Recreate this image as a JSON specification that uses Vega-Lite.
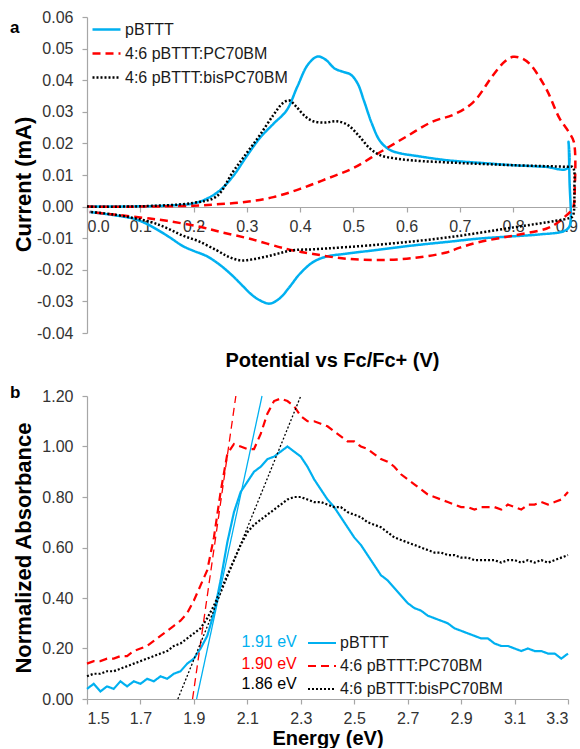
{
  "$schema": "https://vega.github.io/schema/vega-lite/v6.json",
  "padding": {"left": 10, "top": 9, "right": 0, "bottom": 0},
  "spacing": 14,
  "config": {
    "font": "Liberation Sans",
    "view": {"stroke": null},
    "axis": {"grid": false, "domainColor": "#a6a6a6", "tickColor": "#a6a6a6", "domainWidth": 1.2, "tickWidth": 1.2, "tickSize": 5, "labelColor": "#333333", "labelFontSize": 16, "labelFont": "Liberation Sans", "titleFont": "Liberation Sans", "titleFontSize": 20, "titleFontWeight": "bold", "titleColor": "#000000"},
    "legend": {"labelFontSize": 16, "labelColor": "#1a1a1a", "labelFont": "Liberation Sans", "symbolType": "stroke", "symbolSize": 784, "symbolStrokeWidth": 2.5, "padding": 0, "labelOffset": 3, "labelLimit": 300},
    "title": {"font": "Liberation Sans", "fontSize": 17, "fontWeight": "bold", "color": "#000000"}
  },
  "datasets": {
    "cv": [
      {"s":"pBTTT","i":0,"V":0.000,"I":0.0000},{"s":"pBTTT","i":1,"V":0.050,"I":0.0000},{"s":"pBTTT","i":2,"V":0.100,"I":0.0001},{"s":"pBTTT","i":3,"V":0.150,"I":0.0003},{"s":"pBTTT","i":4,"V":0.200,"I":0.0010},{"s":"pBTTT","i":5,"V":0.225,"I":0.0025},{"s":"pBTTT","i":6,"V":0.250,"I":0.0052},{"s":"pBTTT","i":7,"V":0.275,"I":0.0098},{"s":"pBTTT","i":8,"V":0.300,"I":0.0160},{"s":"pBTTT","i":9,"V":0.325,"I":0.0218},{"s":"pBTTT","i":10,"V":0.350,"I":0.0262},{"s":"pBTTT","i":11,"V":0.375,"I":0.0305},{"s":"pBTTT","i":12,"V":0.395,"I":0.0380},{"s":"pBTTT","i":13,"V":0.415,"I":0.0450},{"s":"pBTTT","i":14,"V":0.433,"I":0.0475},{"s":"pBTTT","i":15,"V":0.448,"I":0.0465},{"s":"pBTTT","i":16,"V":0.465,"I":0.0437},{"s":"pBTTT","i":17,"V":0.480,"I":0.0427},{"s":"pBTTT","i":18,"V":0.495,"I":0.0418},{"s":"pBTTT","i":19,"V":0.508,"I":0.0390},{"s":"pBTTT","i":20,"V":0.520,"I":0.0335},{"s":"pBTTT","i":21,"V":0.535,"I":0.0262},{"s":"pBTTT","i":22,"V":0.550,"I":0.0208},{"s":"pBTTT","i":23,"V":0.568,"I":0.0180},{"s":"pBTTT","i":24,"V":0.590,"I":0.0168},{"s":"pBTTT","i":25,"V":0.612,"I":0.0162},{"s":"pBTTT","i":26,"V":0.675,"I":0.0147},{"s":"pBTTT","i":27,"V":0.750,"I":0.0137},{"s":"pBTTT","i":28,"V":0.800,"I":0.0131},{"s":"pBTTT","i":29,"V":0.860,"I":0.0126},{"s":"pBTTT","i":30,"V":0.902,"I":0.0121},{"s":"pBTTT","i":31,"V":0.904,"I":0.0205},{"s":"pBTTT","i":32,"V":0.906,"I":0.0080},{"s":"pBTTT","i":33,"V":0.908,"I":-0.0045},{"s":"pBTTT","i":34,"V":0.905,"I":-0.0065},{"s":"pBTTT","i":35,"V":0.895,"I":-0.0078},{"s":"pBTTT","i":36,"V":0.850,"I":-0.0088},{"s":"pBTTT","i":37,"V":0.800,"I":-0.0094},{"s":"pBTTT","i":38,"V":0.737,"I":-0.0101},{"s":"pBTTT","i":39,"V":0.675,"I":-0.0112},{"s":"pBTTT","i":40,"V":0.612,"I":-0.0123},{"s":"pBTTT","i":41,"V":0.550,"I":-0.0136},{"s":"pBTTT","i":42,"V":0.487,"I":-0.0149},{"s":"pBTTT","i":43,"V":0.450,"I":-0.0158},{"s":"pBTTT","i":44,"V":0.425,"I":-0.0175},{"s":"pBTTT","i":45,"V":0.400,"I":-0.0212},{"s":"pBTTT","i":46,"V":0.380,"I":-0.0255},{"s":"pBTTT","i":47,"V":0.362,"I":-0.0290},{"s":"pBTTT","i":48,"V":0.343,"I":-0.0307},{"s":"pBTTT","i":49,"V":0.325,"I":-0.0297},{"s":"pBTTT","i":50,"V":0.310,"I":-0.0280},{"s":"pBTTT","i":51,"V":0.290,"I":-0.0247},{"s":"pBTTT","i":52,"V":0.274,"I":-0.0220},{"s":"pBTTT","i":53,"V":0.250,"I":-0.0185},{"s":"pBTTT","i":54,"V":0.225,"I":-0.0157},{"s":"pBTTT","i":55,"V":0.200,"I":-0.0140},{"s":"pBTTT","i":56,"V":0.180,"I":-0.0125},{"s":"pBTTT","i":57,"V":0.155,"I":-0.0097},{"s":"pBTTT","i":58,"V":0.131,"I":-0.0072},{"s":"pBTTT","i":59,"V":0.110,"I":-0.0053},{"s":"pBTTT","i":60,"V":0.087,"I":-0.0038},{"s":"pBTTT","i":61,"V":0.050,"I":-0.0027},{"s":"pBTTT","i":62,"V":0.005,"I":-0.0017},
      {"s":"4:6 pBTTT:PC70BM","i":0,"V":0.000,"I":0.0000},{"s":"4:6 pBTTT:PC70BM","i":1,"V":0.100,"I":0.0000},{"s":"4:6 pBTTT:PC70BM","i":2,"V":0.200,"I":0.0003},{"s":"4:6 pBTTT:PC70BM","i":3,"V":0.250,"I":0.0008},{"s":"4:6 pBTTT:PC70BM","i":4,"V":0.300,"I":0.0015},{"s":"4:6 pBTTT:PC70BM","i":5,"V":0.350,"I":0.0030},{"s":"4:6 pBTTT:PC70BM","i":6,"V":0.400,"I":0.0056},{"s":"4:6 pBTTT:PC70BM","i":7,"V":0.450,"I":0.0088},{"s":"4:6 pBTTT:PC70BM","i":8,"V":0.500,"I":0.0122},{"s":"4:6 pBTTT:PC70BM","i":9,"V":0.550,"I":0.0172},{"s":"4:6 pBTTT:PC70BM","i":10,"V":0.600,"I":0.0222},{"s":"4:6 pBTTT:PC70BM","i":11,"V":0.650,"I":0.0270},{"s":"4:6 pBTTT:PC70BM","i":12,"V":0.687,"I":0.0290},{"s":"4:6 pBTTT:PC70BM","i":13,"V":0.725,"I":0.0330},{"s":"4:6 pBTTT:PC70BM","i":14,"V":0.762,"I":0.0415},{"s":"4:6 pBTTT:PC70BM","i":15,"V":0.785,"I":0.0460},{"s":"4:6 pBTTT:PC70BM","i":16,"V":0.800,"I":0.0474},{"s":"4:6 pBTTT:PC70BM","i":17,"V":0.815,"I":0.0470},{"s":"4:6 pBTTT:PC70BM","i":18,"V":0.831,"I":0.0452},{"s":"4:6 pBTTT:PC70BM","i":19,"V":0.862,"I":0.0373},{"s":"4:6 pBTTT:PC70BM","i":20,"V":0.887,"I":0.0280},{"s":"4:6 pBTTT:PC70BM","i":21,"V":0.905,"I":0.0235},{"s":"4:6 pBTTT:PC70BM","i":22,"V":0.914,"I":0.0205},{"s":"4:6 pBTTT:PC70BM","i":23,"V":0.916,"I":0.0066},{"s":"4:6 pBTTT:PC70BM","i":24,"V":0.912,"I":-0.0006},{"s":"4:6 pBTTT:PC70BM","i":25,"V":0.900,"I":-0.0028},{"s":"4:6 pBTTT:PC70BM","i":26,"V":0.880,"I":-0.0055},{"s":"4:6 pBTTT:PC70BM","i":27,"V":0.862,"I":-0.0070},{"s":"4:6 pBTTT:PC70BM","i":28,"V":0.800,"I":-0.0092},{"s":"4:6 pBTTT:PC70BM","i":29,"V":0.737,"I":-0.0112},{"s":"4:6 pBTTT:PC70BM","i":30,"V":0.700,"I":-0.0130},{"s":"4:6 pBTTT:PC70BM","i":31,"V":0.675,"I":-0.0145},{"s":"4:6 pBTTT:PC70BM","i":32,"V":0.612,"I":-0.0163},{"s":"4:6 pBTTT:PC70BM","i":33,"V":0.550,"I":-0.0169},{"s":"4:6 pBTTT:PC70BM","i":34,"V":0.487,"I":-0.0165},{"s":"4:6 pBTTT:PC70BM","i":35,"V":0.425,"I":-0.0150},{"s":"4:6 pBTTT:PC70BM","i":36,"V":0.375,"I":-0.0134},{"s":"4:6 pBTTT:PC70BM","i":37,"V":0.306,"I":-0.0102},{"s":"4:6 pBTTT:PC70BM","i":38,"V":0.250,"I":-0.0080},{"s":"4:6 pBTTT:PC70BM","i":39,"V":0.212,"I":-0.0064},{"s":"4:6 pBTTT:PC70BM","i":40,"V":0.150,"I":-0.0045},{"s":"4:6 pBTTT:PC70BM","i":41,"V":0.118,"I":-0.0038},{"s":"4:6 pBTTT:PC70BM","i":42,"V":0.050,"I":-0.0025},{"s":"4:6 pBTTT:PC70BM","i":43,"V":0.005,"I":-0.0017},
      {"s":"4:6 pBTTT:bisPC70BM","i":0,"V":0.000,"I":0.0000},{"s":"4:6 pBTTT:bisPC70BM","i":1,"V":0.100,"I":0.0001},{"s":"4:6 pBTTT:bisPC70BM","i":2,"V":0.200,"I":0.0012},{"s":"4:6 pBTTT:bisPC70BM","i":3,"V":0.243,"I":0.0032},{"s":"4:6 pBTTT:bisPC70BM","i":4,"V":0.274,"I":0.0110},{"s":"4:6 pBTTT:bisPC70BM","i":5,"V":0.300,"I":0.0170},{"s":"4:6 pBTTT:bisPC70BM","i":6,"V":0.324,"I":0.0225},{"s":"4:6 pBTTT:bisPC70BM","i":7,"V":0.350,"I":0.0290},{"s":"4:6 pBTTT:bisPC70BM","i":8,"V":0.368,"I":0.0328},{"s":"4:6 pBTTT:bisPC70BM","i":9,"V":0.380,"I":0.0336},{"s":"4:6 pBTTT:bisPC70BM","i":10,"V":0.392,"I":0.0318},{"s":"4:6 pBTTT:bisPC70BM","i":11,"V":0.410,"I":0.0285},{"s":"4:6 pBTTT:bisPC70BM","i":12,"V":0.425,"I":0.0270},{"s":"4:6 pBTTT:bisPC70BM","i":13,"V":0.447,"I":0.0266},{"s":"4:6 pBTTT:bisPC70BM","i":14,"V":0.469,"I":0.0270},{"s":"4:6 pBTTT:bisPC70BM","i":15,"V":0.490,"I":0.0258},{"s":"4:6 pBTTT:bisPC70BM","i":16,"V":0.510,"I":0.0225},{"s":"4:6 pBTTT:bisPC70BM","i":17,"V":0.530,"I":0.0186},{"s":"4:6 pBTTT:bisPC70BM","i":18,"V":0.550,"I":0.0163},{"s":"4:6 pBTTT:bisPC70BM","i":19,"V":0.580,"I":0.0152},{"s":"4:6 pBTTT:bisPC70BM","i":20,"V":0.612,"I":0.0146},{"s":"4:6 pBTTT:bisPC70BM","i":21,"V":0.700,"I":0.0138},{"s":"4:6 pBTTT:bisPC70BM","i":22,"V":0.800,"I":0.0131},{"s":"4:6 pBTTT:bisPC70BM","i":23,"V":0.900,"I":0.0126},{"s":"4:6 pBTTT:bisPC70BM","i":24,"V":0.912,"I":0.0125},{"s":"4:6 pBTTT:bisPC70BM","i":25,"V":0.915,"I":0.0050},{"s":"4:6 pBTTT:bisPC70BM","i":26,"V":0.912,"I":-0.0030},{"s":"4:6 pBTTT:bisPC70BM","i":27,"V":0.906,"I":-0.0036},{"s":"4:6 pBTTT:bisPC70BM","i":28,"V":0.880,"I":-0.0045},{"s":"4:6 pBTTT:bisPC70BM","i":29,"V":0.800,"I":-0.0066},{"s":"4:6 pBTTT:bisPC70BM","i":30,"V":0.675,"I":-0.0098},{"s":"4:6 pBTTT:bisPC70BM","i":31,"V":0.550,"I":-0.0120},{"s":"4:6 pBTTT:bisPC70BM","i":32,"V":0.425,"I":-0.0135},{"s":"4:6 pBTTT:bisPC70BM","i":33,"V":0.387,"I":-0.0138},{"s":"4:6 pBTTT:bisPC70BM","i":34,"V":0.360,"I":-0.0148},{"s":"4:6 pBTTT:bisPC70BM","i":35,"V":0.337,"I":-0.0158},{"s":"4:6 pBTTT:bisPC70BM","i":36,"V":0.310,"I":-0.0167},{"s":"4:6 pBTTT:bisPC70BM","i":37,"V":0.287,"I":-0.0170},{"s":"4:6 pBTTT:bisPC70BM","i":38,"V":0.265,"I":-0.0158},{"s":"4:6 pBTTT:bisPC70BM","i":39,"V":0.243,"I":-0.0138},{"s":"4:6 pBTTT:bisPC70BM","i":40,"V":0.210,"I":-0.0110},{"s":"4:6 pBTTT:bisPC70BM","i":41,"V":0.180,"I":-0.0092},{"s":"4:6 pBTTT:bisPC70BM","i":42,"V":0.150,"I":-0.0068},{"s":"4:6 pBTTT:bisPC70BM","i":43,"V":0.118,"I":-0.0048},{"s":"4:6 pBTTT:bisPC70BM","i":44,"V":0.050,"I":-0.0025},{"s":"4:6 pBTTT:bisPC70BM","i":45,"V":0.005,"I":-0.0017}
    ],
    "abs": [
      {"s":"pBTTT","E":1.500,"A":0.04},{"s":"pBTTT","E":1.525,"A":0.06},{"s":"pBTTT","E":1.550,"A":0.03},{"s":"pBTTT","E":1.575,"A":0.05},{"s":"pBTTT","E":1.600,"A":0.04},{"s":"pBTTT","E":1.625,"A":0.07},{"s":"pBTTT","E":1.650,"A":0.05},{"s":"pBTTT","E":1.675,"A":0.07},{"s":"pBTTT","E":1.700,"A":0.06},{"s":"pBTTT","E":1.725,"A":0.08},{"s":"pBTTT","E":1.750,"A":0.07},{"s":"pBTTT","E":1.775,"A":0.09},{"s":"pBTTT","E":1.800,"A":0.08},{"s":"pBTTT","E":1.825,"A":0.10},{"s":"pBTTT","E":1.850,"A":0.11},{"s":"pBTTT","E":1.875,"A":0.14},{"s":"pBTTT","E":1.900,"A":0.16},{"s":"pBTTT","E":1.925,"A":0.20},{"s":"pBTTT","E":1.950,"A":0.25},{"s":"pBTTT","E":1.975,"A":0.34},{"s":"pBTTT","E":2.000,"A":0.47},{"s":"pBTTT","E":2.025,"A":0.62},{"s":"pBTTT","E":2.050,"A":0.74},{"s":"pBTTT","E":2.075,"A":0.82},{"s":"pBTTT","E":2.100,"A":0.86},{"s":"pBTTT","E":2.125,"A":0.90},{"s":"pBTTT","E":2.150,"A":0.92},{"s":"pBTTT","E":2.175,"A":0.95},{"s":"pBTTT","E":2.200,"A":0.96},{"s":"pBTTT","E":2.225,"A":0.98},{"s":"pBTTT","E":2.250,"A":1.00},{"s":"pBTTT","E":2.275,"A":0.98},{"s":"pBTTT","E":2.300,"A":0.96},{"s":"pBTTT","E":2.325,"A":0.92},{"s":"pBTTT","E":2.350,"A":0.87},{"s":"pBTTT","E":2.375,"A":0.83},{"s":"pBTTT","E":2.400,"A":0.79},{"s":"pBTTT","E":2.425,"A":0.76},{"s":"pBTTT","E":2.450,"A":0.72},{"s":"pBTTT","E":2.475,"A":0.68},{"s":"pBTTT","E":2.500,"A":0.64},{"s":"pBTTT","E":2.525,"A":0.61},{"s":"pBTTT","E":2.550,"A":0.57},{"s":"pBTTT","E":2.575,"A":0.53},{"s":"pBTTT","E":2.600,"A":0.49},{"s":"pBTTT","E":2.625,"A":0.47},{"s":"pBTTT","E":2.650,"A":0.44},{"s":"pBTTT","E":2.675,"A":0.41},{"s":"pBTTT","E":2.700,"A":0.38},{"s":"pBTTT","E":2.725,"A":0.36},{"s":"pBTTT","E":2.750,"A":0.35},{"s":"pBTTT","E":2.775,"A":0.33},{"s":"pBTTT","E":2.800,"A":0.32},{"s":"pBTTT","E":2.825,"A":0.31},{"s":"pBTTT","E":2.850,"A":0.30},{"s":"pBTTT","E":2.875,"A":0.28},{"s":"pBTTT","E":2.900,"A":0.27},{"s":"pBTTT","E":2.925,"A":0.26},{"s":"pBTTT","E":2.950,"A":0.25},{"s":"pBTTT","E":2.975,"A":0.24},{"s":"pBTTT","E":3.000,"A":0.24},{"s":"pBTTT","E":3.025,"A":0.22},{"s":"pBTTT","E":3.050,"A":0.21},{"s":"pBTTT","E":3.075,"A":0.21},{"s":"pBTTT","E":3.100,"A":0.20},{"s":"pBTTT","E":3.125,"A":0.19},{"s":"pBTTT","E":3.150,"A":0.20},{"s":"pBTTT","E":3.175,"A":0.19},{"s":"pBTTT","E":3.200,"A":0.19},{"s":"pBTTT","E":3.225,"A":0.18},{"s":"pBTTT","E":3.250,"A":0.18},{"s":"pBTTT","E":3.275,"A":0.16},{"s":"pBTTT","E":3.300,"A":0.18},
      {"s":"4:6 pBTTT:PC70BM","E":1.500,"A":0.14},{"s":"4:6 pBTTT:PC70BM","E":1.525,"A":0.15},{"s":"4:6 pBTTT:PC70BM","E":1.550,"A":0.15},{"s":"4:6 pBTTT:PC70BM","E":1.575,"A":0.16},{"s":"4:6 pBTTT:PC70BM","E":1.600,"A":0.16},{"s":"4:6 pBTTT:PC70BM","E":1.625,"A":0.17},{"s":"4:6 pBTTT:PC70BM","E":1.650,"A":0.17},{"s":"4:6 pBTTT:PC70BM","E":1.675,"A":0.19},{"s":"4:6 pBTTT:PC70BM","E":1.700,"A":0.20},{"s":"4:6 pBTTT:PC70BM","E":1.725,"A":0.21},{"s":"4:6 pBTTT:PC70BM","E":1.750,"A":0.23},{"s":"4:6 pBTTT:PC70BM","E":1.775,"A":0.25},{"s":"4:6 pBTTT:PC70BM","E":1.800,"A":0.27},{"s":"4:6 pBTTT:PC70BM","E":1.825,"A":0.29},{"s":"4:6 pBTTT:PC70BM","E":1.850,"A":0.31},{"s":"4:6 pBTTT:PC70BM","E":1.875,"A":0.34},{"s":"4:6 pBTTT:PC70BM","E":1.900,"A":0.39},{"s":"4:6 pBTTT:PC70BM","E":1.925,"A":0.45},{"s":"4:6 pBTTT:PC70BM","E":1.950,"A":0.51},{"s":"4:6 pBTTT:PC70BM","E":1.975,"A":0.64},{"s":"4:6 pBTTT:PC70BM","E":2.000,"A":0.82},{"s":"4:6 pBTTT:PC70BM","E":2.025,"A":0.97},{"s":"4:6 pBTTT:PC70BM","E":2.050,"A":1.01},{"s":"4:6 pBTTT:PC70BM","E":2.075,"A":1.00},{"s":"4:6 pBTTT:PC70BM","E":2.100,"A":0.99},{"s":"4:6 pBTTT:PC70BM","E":2.125,"A":0.99},{"s":"4:6 pBTTT:PC70BM","E":2.150,"A":1.05},{"s":"4:6 pBTTT:PC70BM","E":2.175,"A":1.13},{"s":"4:6 pBTTT:PC70BM","E":2.200,"A":1.18},{"s":"4:6 pBTTT:PC70BM","E":2.225,"A":1.19},{"s":"4:6 pBTTT:PC70BM","E":2.250,"A":1.18},{"s":"4:6 pBTTT:PC70BM","E":2.275,"A":1.16},{"s":"4:6 pBTTT:PC70BM","E":2.300,"A":1.12},{"s":"4:6 pBTTT:PC70BM","E":2.325,"A":1.10},{"s":"4:6 pBTTT:PC70BM","E":2.350,"A":1.10},{"s":"4:6 pBTTT:PC70BM","E":2.375,"A":1.09},{"s":"4:6 pBTTT:PC70BM","E":2.400,"A":1.08},{"s":"4:6 pBTTT:PC70BM","E":2.425,"A":1.06},{"s":"4:6 pBTTT:PC70BM","E":2.450,"A":1.04},{"s":"4:6 pBTTT:PC70BM","E":2.475,"A":1.02},{"s":"4:6 pBTTT:PC70BM","E":2.500,"A":1.02},{"s":"4:6 pBTTT:PC70BM","E":2.525,"A":1.00},{"s":"4:6 pBTTT:PC70BM","E":2.550,"A":0.99},{"s":"4:6 pBTTT:PC70BM","E":2.575,"A":0.97},{"s":"4:6 pBTTT:PC70BM","E":2.600,"A":0.95},{"s":"4:6 pBTTT:PC70BM","E":2.625,"A":0.94},{"s":"4:6 pBTTT:PC70BM","E":2.650,"A":0.92},{"s":"4:6 pBTTT:PC70BM","E":2.675,"A":0.89},{"s":"4:6 pBTTT:PC70BM","E":2.700,"A":0.87},{"s":"4:6 pBTTT:PC70BM","E":2.725,"A":0.85},{"s":"4:6 pBTTT:PC70BM","E":2.750,"A":0.83},{"s":"4:6 pBTTT:PC70BM","E":2.775,"A":0.81},{"s":"4:6 pBTTT:PC70BM","E":2.800,"A":0.80},{"s":"4:6 pBTTT:PC70BM","E":2.825,"A":0.79},{"s":"4:6 pBTTT:PC70BM","E":2.850,"A":0.78},{"s":"4:6 pBTTT:PC70BM","E":2.875,"A":0.77},{"s":"4:6 pBTTT:PC70BM","E":2.900,"A":0.76},{"s":"4:6 pBTTT:PC70BM","E":2.925,"A":0.76},{"s":"4:6 pBTTT:PC70BM","E":2.950,"A":0.75},{"s":"4:6 pBTTT:PC70BM","E":2.975,"A":0.76},{"s":"4:6 pBTTT:PC70BM","E":3.000,"A":0.76},{"s":"4:6 pBTTT:PC70BM","E":3.025,"A":0.76},{"s":"4:6 pBTTT:PC70BM","E":3.050,"A":0.75},{"s":"4:6 pBTTT:PC70BM","E":3.075,"A":0.77},{"s":"4:6 pBTTT:PC70BM","E":3.100,"A":0.76},{"s":"4:6 pBTTT:PC70BM","E":3.125,"A":0.75},{"s":"4:6 pBTTT:PC70BM","E":3.150,"A":0.77},{"s":"4:6 pBTTT:PC70BM","E":3.175,"A":0.77},{"s":"4:6 pBTTT:PC70BM","E":3.200,"A":0.78},{"s":"4:6 pBTTT:PC70BM","E":3.225,"A":0.77},{"s":"4:6 pBTTT:PC70BM","E":3.250,"A":0.78},{"s":"4:6 pBTTT:PC70BM","E":3.275,"A":0.79},{"s":"4:6 pBTTT:PC70BM","E":3.300,"A":0.82},
      {"s":"4:6 pBTTT:bisPC70BM","E":1.500,"A":0.09},{"s":"4:6 pBTTT:bisPC70BM","E":1.525,"A":0.10},{"s":"4:6 pBTTT:bisPC70BM","E":1.550,"A":0.10},{"s":"4:6 pBTTT:bisPC70BM","E":1.575,"A":0.11},{"s":"4:6 pBTTT:bisPC70BM","E":1.600,"A":0.11},{"s":"4:6 pBTTT:bisPC70BM","E":1.625,"A":0.12},{"s":"4:6 pBTTT:bisPC70BM","E":1.650,"A":0.13},{"s":"4:6 pBTTT:bisPC70BM","E":1.675,"A":0.14},{"s":"4:6 pBTTT:bisPC70BM","E":1.700,"A":0.15},{"s":"4:6 pBTTT:bisPC70BM","E":1.725,"A":0.16},{"s":"4:6 pBTTT:bisPC70BM","E":1.750,"A":0.17},{"s":"4:6 pBTTT:bisPC70BM","E":1.775,"A":0.18},{"s":"4:6 pBTTT:bisPC70BM","E":1.800,"A":0.19},{"s":"4:6 pBTTT:bisPC70BM","E":1.825,"A":0.21},{"s":"4:6 pBTTT:bisPC70BM","E":1.850,"A":0.22},{"s":"4:6 pBTTT:bisPC70BM","E":1.875,"A":0.24},{"s":"4:6 pBTTT:bisPC70BM","E":1.900,"A":0.26},{"s":"4:6 pBTTT:bisPC70BM","E":1.925,"A":0.28},{"s":"4:6 pBTTT:bisPC70BM","E":1.950,"A":0.32},{"s":"4:6 pBTTT:bisPC70BM","E":1.975,"A":0.37},{"s":"4:6 pBTTT:bisPC70BM","E":2.000,"A":0.43},{"s":"4:6 pBTTT:bisPC70BM","E":2.025,"A":0.49},{"s":"4:6 pBTTT:bisPC70BM","E":2.050,"A":0.55},{"s":"4:6 pBTTT:bisPC70BM","E":2.075,"A":0.61},{"s":"4:6 pBTTT:bisPC70BM","E":2.100,"A":0.66},{"s":"4:6 pBTTT:bisPC70BM","E":2.125,"A":0.69},{"s":"4:6 pBTTT:bisPC70BM","E":2.150,"A":0.71},{"s":"4:6 pBTTT:bisPC70BM","E":2.175,"A":0.73},{"s":"4:6 pBTTT:bisPC70BM","E":2.200,"A":0.75},{"s":"4:6 pBTTT:bisPC70BM","E":2.225,"A":0.77},{"s":"4:6 pBTTT:bisPC70BM","E":2.250,"A":0.79},{"s":"4:6 pBTTT:bisPC70BM","E":2.275,"A":0.80},{"s":"4:6 pBTTT:bisPC70BM","E":2.300,"A":0.80},{"s":"4:6 pBTTT:bisPC70BM","E":2.325,"A":0.79},{"s":"4:6 pBTTT:bisPC70BM","E":2.350,"A":0.78},{"s":"4:6 pBTTT:bisPC70BM","E":2.375,"A":0.78},{"s":"4:6 pBTTT:bisPC70BM","E":2.400,"A":0.77},{"s":"4:6 pBTTT:bisPC70BM","E":2.425,"A":0.76},{"s":"4:6 pBTTT:bisPC70BM","E":2.450,"A":0.76},{"s":"4:6 pBTTT:bisPC70BM","E":2.475,"A":0.74},{"s":"4:6 pBTTT:bisPC70BM","E":2.500,"A":0.73},{"s":"4:6 pBTTT:bisPC70BM","E":2.525,"A":0.72},{"s":"4:6 pBTTT:bisPC70BM","E":2.550,"A":0.70},{"s":"4:6 pBTTT:bisPC70BM","E":2.575,"A":0.69},{"s":"4:6 pBTTT:bisPC70BM","E":2.600,"A":0.68},{"s":"4:6 pBTTT:bisPC70BM","E":2.625,"A":0.66},{"s":"4:6 pBTTT:bisPC70BM","E":2.650,"A":0.64},{"s":"4:6 pBTTT:bisPC70BM","E":2.675,"A":0.63},{"s":"4:6 pBTTT:bisPC70BM","E":2.700,"A":0.62},{"s":"4:6 pBTTT:bisPC70BM","E":2.725,"A":0.61},{"s":"4:6 pBTTT:bisPC70BM","E":2.750,"A":0.60},{"s":"4:6 pBTTT:bisPC70BM","E":2.775,"A":0.59},{"s":"4:6 pBTTT:bisPC70BM","E":2.800,"A":0.58},{"s":"4:6 pBTTT:bisPC70BM","E":2.825,"A":0.58},{"s":"4:6 pBTTT:bisPC70BM","E":2.850,"A":0.57},{"s":"4:6 pBTTT:bisPC70BM","E":2.875,"A":0.57},{"s":"4:6 pBTTT:bisPC70BM","E":2.900,"A":0.56},{"s":"4:6 pBTTT:bisPC70BM","E":2.925,"A":0.56},{"s":"4:6 pBTTT:bisPC70BM","E":2.950,"A":0.55},{"s":"4:6 pBTTT:bisPC70BM","E":2.975,"A":0.55},{"s":"4:6 pBTTT:bisPC70BM","E":3.000,"A":0.55},{"s":"4:6 pBTTT:bisPC70BM","E":3.025,"A":0.55},{"s":"4:6 pBTTT:bisPC70BM","E":3.050,"A":0.54},{"s":"4:6 pBTTT:bisPC70BM","E":3.075,"A":0.55},{"s":"4:6 pBTTT:bisPC70BM","E":3.100,"A":0.55},{"s":"4:6 pBTTT:bisPC70BM","E":3.125,"A":0.54},{"s":"4:6 pBTTT:bisPC70BM","E":3.150,"A":0.55},{"s":"4:6 pBTTT:bisPC70BM","E":3.175,"A":0.54},{"s":"4:6 pBTTT:bisPC70BM","E":3.200,"A":0.55},{"s":"4:6 pBTTT:bisPC70BM","E":3.225,"A":0.54},{"s":"4:6 pBTTT:bisPC70BM","E":3.250,"A":0.55},{"s":"4:6 pBTTT:bisPC70BM","E":3.275,"A":0.56},{"s":"4:6 pBTTT:bisPC70BM","E":3.300,"A":0.57}
    ],
    "tangent": [
      {"s":"pBTTT","E":1.910,"A":0.0},{"s":"pBTTT","E":2.155,"A":1.2},
      {"s":"4:6 pBTTT:PC70BM","E":1.895,"A":0.0},{"s":"4:6 pBTTT:PC70BM","E":2.057,"A":1.2},
      {"s":"4:6 pBTTT:bisPC70BM","E":1.840,"A":0.0},{"s":"4:6 pBTTT:bisPC70BM","E":2.300,"A":1.2}
    ],
    "gap": [
      {"s":"pBTTT","label":"1.91 eV","E":2.285,"A":0.226},
      {"s":"4:6 pBTTT:PC70BM","label":"1.90 eV","E":2.285,"A":0.139},
      {"s":"4:6 pBTTT:bisPC70BM","label":"1.86 eV","E":2.285,"A":0.059}
    ]
  },
  "resolve": {"scale": {"color": "independent", "strokeDash": "independent"}, "legend": {"color": "independent", "strokeDash": "independent"}},
  "vconcat": [
    {
      "width": 490,
      "height": 316,
      "title": {"text": "a", "anchor": "start", "frame": "group", "dx": -77, "dy": 41, "offset": 0, "baseline": "alphabetic"},
      "layer": [
        {
          "data": {"name": "cv"},
          "mark": {"type": "line", "strokeWidth": 2.5, "interpolate": "catmull-rom"},
          "encoding": {
            "x": {"field": "V", "type": "quantitative", "scale": {"domain": [0, 0.92], "nice": false, "zero": false},
                  "axis": {"values": [0,0.1,0.2,0.3,0.4,0.5,0.6,0.7,0.8,0.9], "format": ".1f", "offset": -126, "labelPadding": 6, "title": "Potential vs Fc/Fc+ (V)", "titleY": 159, "titleBaseline": "alphabetic"}},
            "y": {"field": "I", "type": "quantitative", "scale": {"domain": [-0.04, 0.06], "nice": false, "zero": false},
                  "axis": {"values": [-0.04,-0.03,-0.02,-0.01,0,0.01,0.02,0.03,0.04,0.05,0.06], "format": ".2f", "labelExpr": "replace(datum.label, '\u2212', '-')", "labelPadding": 9, "title": "Current (mA)", "titleFontSize": 22, "titleX": -57, "titleY": 167, "titleBaseline": "alphabetic"}},
            "color": {"field": "s", "type": "nominal", "scale": {"domain": ["pBTTT", "4:6 pBTTT:PC70BM", "4:6 pBTTT:bisPC70BM"], "range": ["#00b0f0", "#ff0000", "#000000"]},
                      "legend": {"title": null, "orient": "none", "legendX": 4, "legendY": -3, "rowPadding": -2}},
            "strokeDash": {"field": "s", "type": "nominal", "scale": {"domain": ["pBTTT", "4:6 pBTTT:PC70BM", "4:6 pBTTT:bisPC70BM"], "range": [[1, 0], [8, 5], [2, 2]]},
                      "legend": {"title": null, "orient": "none", "legendX": 4, "legendY": -3, "rowPadding": -2}},
            "order": {"field": "i", "type": "quantitative"}
          }
        }
      ]
    },
    {
      "width": 481,
      "height": 303,
      "title": {"text": "b", "anchor": "start", "frame": "group", "dx": -77, "dy": 27, "offset": 0, "baseline": "alphabetic"},
      "layer": [
        {
          "data": {"name": "abs"},
          "mark": {"type": "line", "strokeWidth": 2.2},
          "encoding": {
            "x": {"field": "E", "type": "quantitative", "scale": {"domain": [1.5, 3.3], "nice": false, "zero": false},
                  "axis": {"values": [1.5,1.6,1.7,1.8,1.9,2.0,2.1,2.2,2.3,2.4,2.5,2.6,2.7,2.8,2.9,3.0,3.1,3.2,3.3], "labelExpr": "round(datum.value*10) % 2 == 1 ? format(datum.value, '.1f') : ''", "labelPadding": 6, "title": "Energy (eV)", "titleY": 45, "titleBaseline": "alphabetic"}},
            "y": {"field": "A", "type": "quantitative", "scale": {"domain": [0, 1.2], "nice": false},
                  "axis": {"values": [0,0.2,0.4,0.6,0.8,1.0,1.2], "format": ".2f", "labelPadding": 9, "title": "Normalized Absorbance", "titleFontSize": 22, "titleX": -57, "titleBaseline": "alphabetic"}},
            "color": {"field": "s", "type": "nominal", "scale": {"domain": ["pBTTT", "4:6 pBTTT:PC70BM", "4:6 pBTTT:bisPC70BM"], "range": ["#00b0f0", "#ff0000", "#000000"]},
                      "legend": {"title": null, "orient": "none", "legendX": 220, "legendY": 232, "rowPadding": -8, "symbolStrokeWidth": 2}},
            "strokeDash": {"field": "s", "type": "nominal", "scale": {"domain": ["pBTTT", "4:6 pBTTT:PC70BM", "4:6 pBTTT:bisPC70BM"], "range": [[1, 0], [8, 5], [2, 2]]},
                      "legend": {"title": null, "orient": "none", "legendX": 220, "legendY": 232, "rowPadding": -8, "symbolStrokeWidth": 2}}
          }
        },
        {
          "data": {"name": "tangent"},
          "mark": {"type": "line", "strokeWidth": 1.3},
          "encoding": {
            "x": {"field": "E", "type": "quantitative"},
            "y": {"field": "A", "type": "quantitative"},
            "color": {"field": "s", "type": "nominal", "legend": null},
            "strokeDash": {"field": "s", "type": "nominal", "legend": null}
          }
        },
        {
          "data": {"name": "gap"},
          "mark": {"type": "text", "align": "right", "baseline": "middle", "fontSize": 16, "font": "Liberation Sans"},
          "encoding": {
            "x": {"field": "E", "type": "quantitative"},
            "y": {"field": "A", "type": "quantitative"},
            "text": {"field": "label"},
            "color": {"field": "s", "type": "nominal", "legend": null}
          }
        }
      ]
    }
  ]
}
